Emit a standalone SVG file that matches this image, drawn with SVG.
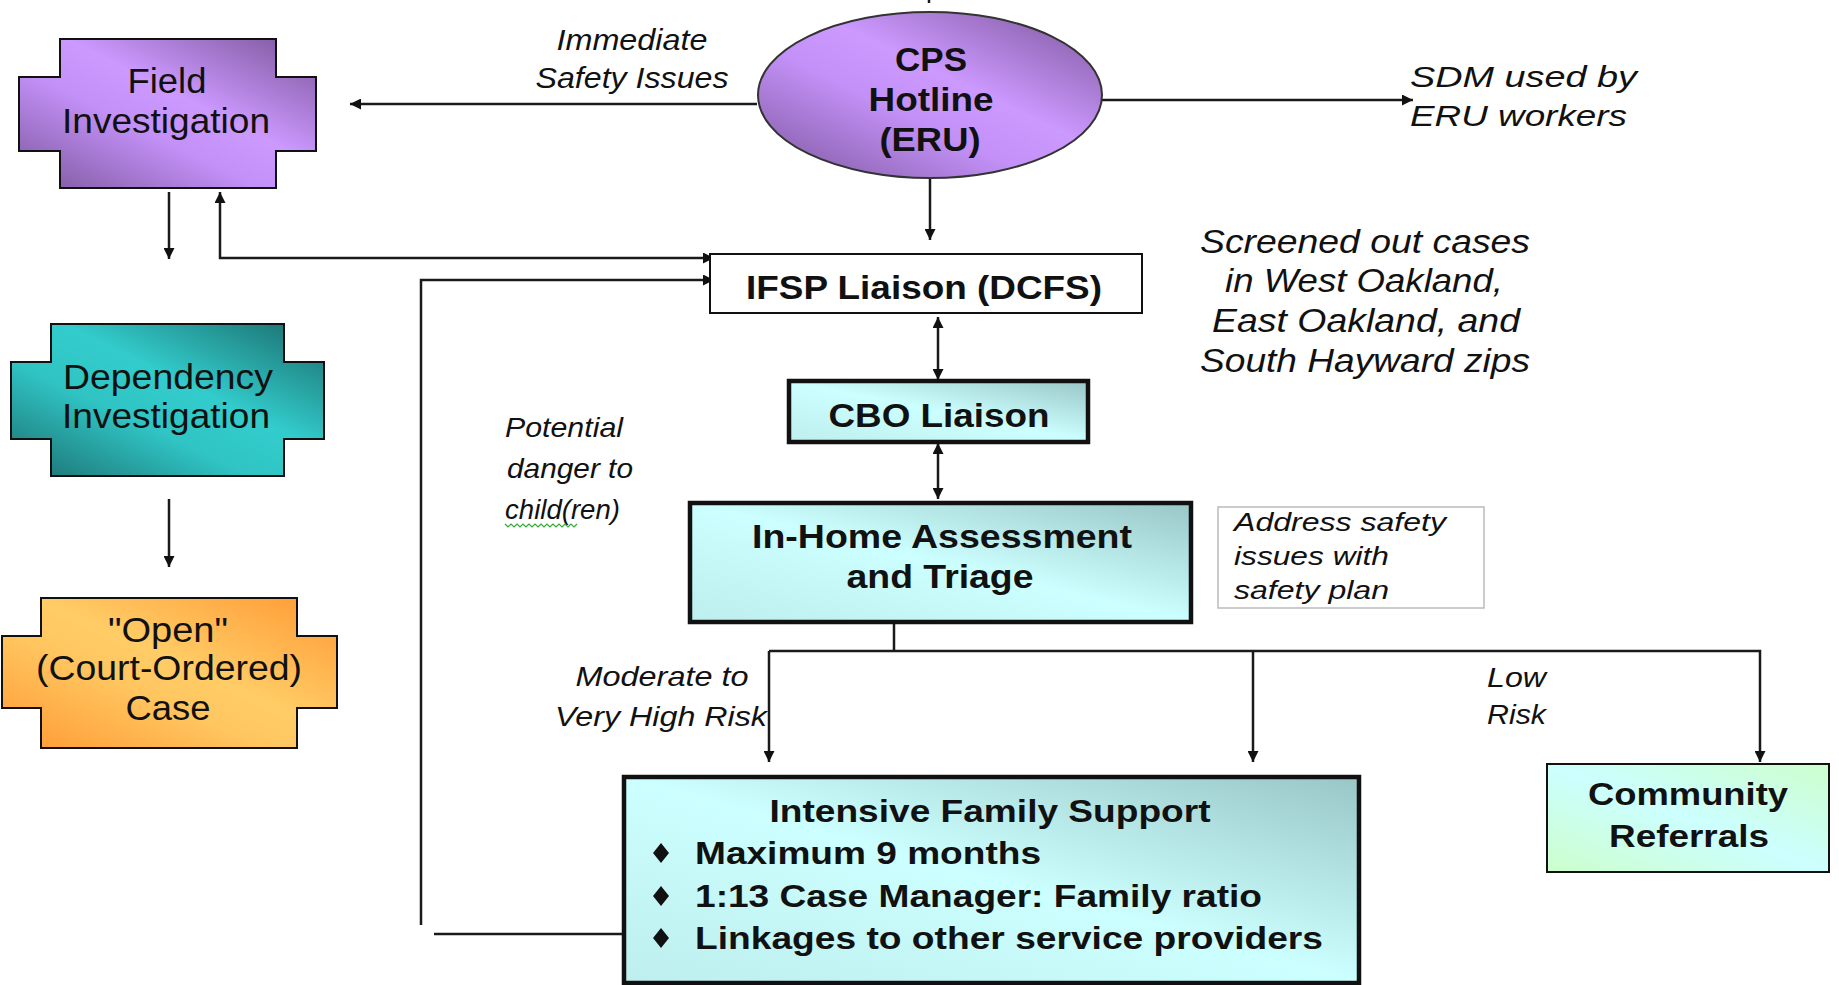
<svg xmlns="http://www.w3.org/2000/svg" width="1839" height="985" viewBox="0 0 1839 985">
<defs>
<style>
text { font-family: "Liberation Sans", Arial, sans-serif; fill:#111; }
.b { font-weight:bold; }
.i { font-style:italic; }
.m { text-anchor:middle; }
.conn path { stroke:#1a1a1a; stroke-width:2.5; fill:none; }
.cross { stroke:#111; stroke-width:2; }
.thick { stroke:#111; stroke-width:4.5; }
</style>
<linearGradient id="gPurple" x1="1" y1="0" x2="0" y2="1">
<stop offset="0" stop-color="#7A5498"/>
<stop offset="0.42" stop-color="#CC99FF"/>
<stop offset="0.6" stop-color="#C290F6"/>
<stop offset="1" stop-color="#7C569C"/>
</linearGradient>
<linearGradient id="gTeal" x1="1" y1="0" x2="0" y2="1">
<stop offset="0" stop-color="#1A6A6A"/>
<stop offset="0.42" stop-color="#33CCCC"/>
<stop offset="0.62" stop-color="#30C4C4"/>
<stop offset="1" stop-color="#1C6E6E"/>
</linearGradient>
<linearGradient id="gOrange" x1="1" y1="0" x2="0" y2="1">
<stop offset="0" stop-color="#FF9933"/>
<stop offset="0.45" stop-color="#FFCC66"/>
<stop offset="0.6" stop-color="#FFC660"/>
<stop offset="1" stop-color="#FF9933"/>
</linearGradient>
<linearGradient id="gCyan" x1="1" y1="0" x2="0" y2="1">
<stop offset="0" stop-color="#99C6C6"/>
<stop offset="0.5" stop-color="#CCFFFF"/>
<stop offset="1" stop-color="#BEEEEE"/>
</linearGradient>
<linearGradient id="gComm" x1="1" y1="0" x2="0" y2="1">
<stop offset="0" stop-color="#CCFFCC"/>
<stop offset="0.5" stop-color="#CCFFFF"/>
<stop offset="1" stop-color="#CCFFCC"/>
</linearGradient>
<marker id="ah" viewBox="0 0 10 10" refX="10" refY="5" markerWidth="13" markerHeight="11" markerUnits="userSpaceOnUse" orient="auto-start-reverse">
<path d="M0,0 L10,5 L0,10 z" fill="#111"/>
</marker>
</defs>
<rect width="1839" height="985" fill="#fff"/>

<g id="connectors" class="conn">
<path d="M929,0 V3"/>
<path d="M757,104 H350" marker-end="url(#ah)"/>
<path d="M1102,100 H1413" marker-end="url(#ah)"/>
<path d="M930,178 V240" marker-end="url(#ah)"/>
<path d="M169,192 V259" marker-end="url(#ah)"/>
<path d="M220,192 V258 H714" marker-start="url(#ah)" marker-end="url(#ah)"/>
<path d="M421,925 V280 H714" marker-end="url(#ah)"/>
<path d="M434,934 H624"/>
<path d="M938,317 V380" marker-start="url(#ah)" marker-end="url(#ah)"/>
<path d="M938,443 V499" marker-start="url(#ah)" marker-end="url(#ah)"/>
<path d="M894,622 V651"/>
<path d="M769,651 H1760 V762" marker-end="url(#ah)"/>
<path d="M769,651 V762" marker-end="url(#ah)"/>
<path d="M1253,651 V762" marker-end="url(#ah)"/>
<path d="M169,499 V567" marker-end="url(#ah)"/>
</g>

<g id="field-investigation">
<path class="cross" fill="url(#gPurple)" d="M60,39 H276 V77 H316 V151 H276 V188 H60 V151 H19 V77 H60 Z"/>
<text class="m" x="167" y="93" font-size="35" textLength="79" lengthAdjust="spacingAndGlyphs">Field</text>
<text class="m" x="166" y="133" font-size="35" textLength="208" lengthAdjust="spacingAndGlyphs">Investigation</text>
</g>

<g id="label-immediate">
<text class="i m" x="632" y="50" font-size="29" textLength="151" lengthAdjust="spacingAndGlyphs">Immediate</text>
<text class="i m" x="632" y="88" font-size="29" textLength="193" lengthAdjust="spacingAndGlyphs">Safety Issues</text>
</g>

<g id="cps-hotline">
<ellipse cx="930" cy="95" rx="172" ry="83" fill="url(#gPurple)" stroke="#333" stroke-width="2"/>
<text class="b m" x="931" y="71" font-size="33" textLength="72" lengthAdjust="spacingAndGlyphs">CPS</text>
<text class="b m" x="931" y="111" font-size="33" textLength="125" lengthAdjust="spacingAndGlyphs">Hotline</text>
<text class="b m" x="930" y="151" font-size="33" textLength="101" lengthAdjust="spacingAndGlyphs">(ERU)</text>
</g>

<g id="label-sdm">
<text class="i" x="1410" y="87" font-size="30" textLength="227" lengthAdjust="spacingAndGlyphs">SDM used by</text>
<text class="i" x="1410" y="126" font-size="30" textLength="217" lengthAdjust="spacingAndGlyphs">ERU workers</text>
</g>

<g id="label-screened">
<text class="i m" x="1365" y="253" font-size="33" textLength="330" lengthAdjust="spacingAndGlyphs">Screened out cases</text>
<text class="i m" x="1364" y="292" font-size="33" textLength="278" lengthAdjust="spacingAndGlyphs">in West Oakland,</text>
<text class="i m" x="1366" y="332" font-size="33" textLength="308" lengthAdjust="spacingAndGlyphs">East Oakland, and</text>
<text class="i m" x="1365" y="372" font-size="33" textLength="330" lengthAdjust="spacingAndGlyphs">South Hayward zips</text>
</g>

<g id="ifsp-liaison">
<rect x="710" y="254" width="432" height="59" fill="#fff" stroke="#111" stroke-width="2"/>
<text class="b m" x="924" y="299" font-size="33" textLength="356" lengthAdjust="spacingAndGlyphs">IFSP Liaison (DCFS)</text>
</g>

<g id="cbo-liaison">
<rect class="thick" x="789" y="381" width="299" height="61" fill="url(#gCyan)"/>
<text class="b m" x="939" y="427" font-size="33" textLength="221" lengthAdjust="spacingAndGlyphs">CBO Liaison</text>
</g>

<g id="label-potential">
<text class="i" x="505" y="437" font-size="28" textLength="118" lengthAdjust="spacingAndGlyphs">Potential</text>
<text class="i" x="507" y="478" font-size="28" textLength="126" lengthAdjust="spacingAndGlyphs">danger to</text>
<text class="i" x="505" y="519" font-size="28" textLength="115" lengthAdjust="spacingAndGlyphs">child(ren)</text>
<path d="M505,524 l3,3 l3,-3 l3,3 l3,-3 l3,3 l3,-3 l3,3 l3,-3 l3,3 l3,-3 l3,3 l3,-3 l3,3 l3,-3 l3,3 l3,-3 l3,3 l3,-3 l3,3 l3,-3 l3,3 l3,-3 l3,3 l3,-3" fill="none" stroke="#33AA33" stroke-width="1.2"/>
</g>

<g id="in-home-assessment">
<rect class="thick" x="690" y="503" width="501" height="119" fill="url(#gCyan)"/>
<text class="b m" x="942" y="548" font-size="33" textLength="380" lengthAdjust="spacingAndGlyphs">In-Home Assessment</text>
<text class="b m" x="940" y="588" font-size="33" textLength="187" lengthAdjust="spacingAndGlyphs">and Triage</text>
</g>

<g id="label-address">
<rect x="1218" y="507" width="266" height="101" fill="#fff" stroke="#bbb" stroke-width="1.5"/>
<text class="i" x="1234" y="531" font-size="26" textLength="212" lengthAdjust="spacingAndGlyphs">Address safety</text>
<text class="i" x="1234" y="565" font-size="26" textLength="155" lengthAdjust="spacingAndGlyphs">issues with</text>
<text class="i" x="1234" y="599" font-size="26" textLength="155" lengthAdjust="spacingAndGlyphs">safety plan</text>
</g>

<g id="dependency-investigation">
<path class="cross" fill="url(#gTeal)" d="M51,324 H284 V362 H324 V439 H284 V476 H51 V439 H11 V362 H51 Z"/>
<text class="m" x="168" y="389" font-size="35" textLength="210" lengthAdjust="spacingAndGlyphs">Dependency</text>
<text class="m" x="166" y="428" font-size="35" textLength="208" lengthAdjust="spacingAndGlyphs">Investigation</text>
</g>

<g id="open-case">
<path class="cross" fill="url(#gOrange)" d="M41,598 H297 V636 H337 V708 H297 V748 H41 V708 H2 V636 H41 Z"/>
<text class="m" x="168" y="642" font-size="35" textLength="120" lengthAdjust="spacingAndGlyphs">"Open"</text>
<text class="m" x="169" y="680" font-size="35" textLength="266" lengthAdjust="spacingAndGlyphs">(Court-Ordered)</text>
<text class="m" x="168" y="720" font-size="35" textLength="85" lengthAdjust="spacingAndGlyphs">Case</text>
</g>

<g id="label-moderate">
<text class="i m" x="662" y="686" font-size="28" textLength="173" lengthAdjust="spacingAndGlyphs">Moderate to</text>
<text class="i m" x="661" y="726" font-size="28" textLength="212" lengthAdjust="spacingAndGlyphs">Very High Risk</text>
</g>

<g id="label-low">
<text class="i" x="1487" y="687" font-size="28" textLength="59" lengthAdjust="spacingAndGlyphs">Low</text>
<text class="i" x="1487" y="724" font-size="28" textLength="59" lengthAdjust="spacingAndGlyphs">Risk</text>
</g>

<g id="intensive-family-support">
<rect class="thick" x="624" y="777" width="735" height="206" fill="url(#gCyan)"/>
<text class="b m" x="990" y="822" font-size="32" textLength="441" lengthAdjust="spacingAndGlyphs">Intensive Family Support</text>
<path d="M661,843 l8,10 l-8,10 l-8,-10 z M661,886 l8,10 l-8,10 l-8,-10 z M661,928 l8,10 l-8,10 l-8,-10 z" fill="#111"/>
<text class="b" x="695" y="864" font-size="32" textLength="346" lengthAdjust="spacingAndGlyphs">Maximum 9 months</text>
<text class="b" x="695" y="907" font-size="32" textLength="567" lengthAdjust="spacingAndGlyphs">1:13 Case Manager: Family ratio</text>
<text class="b" x="695" y="949" font-size="32" textLength="628" lengthAdjust="spacingAndGlyphs">Linkages to other service providers</text>
</g>

<g id="community-referrals">
<rect x="1547" y="764" width="282" height="108" fill="url(#gComm)" stroke="#111" stroke-width="2"/>
<text class="b m" x="1688" y="805" font-size="32" textLength="200" lengthAdjust="spacingAndGlyphs">Community</text>
<text class="b m" x="1689" y="847" font-size="32" textLength="160" lengthAdjust="spacingAndGlyphs">Referrals</text>
</g>
</svg>
